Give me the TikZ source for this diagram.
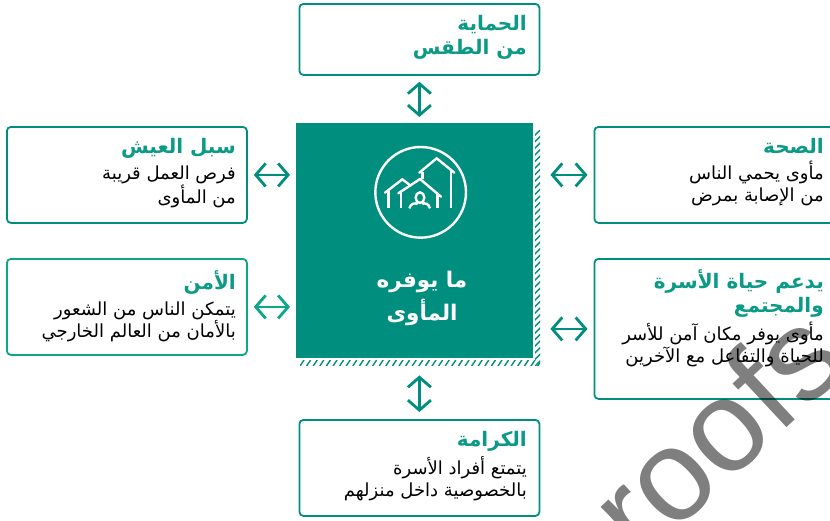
\documentclass[tikz,border=0pt]{standalone}
\usepackage{fontspec}
\usetikzlibrary{arrows.meta}
\setmainfont{DejaVu Sans}
\newfontfamily\arabicfont[Script=Arabic]{DejaVu Sans}
\newfontfamily\wmfont{Liberation Sans}
\TeXXeTstate=1
\definecolor{teal1}{HTML}{008F7E}
\definecolor{teal2}{HTML}{0AA888}
\definecolor{titlecol}{HTML}{0B9A85}
\newcommand{\rl}[1]{\beginR #1\endR}
\newcommand{\ttl}[1]{{\color{titlecol}\fontsize{20}{24}\selectfont\bfseries\rl{#1}}}
\tikzset{
  infobox/.style={draw=teal1,line width=1.8pt,rounded corners=4pt,fill=white,inner sep=0pt,anchor=north west,minimum width=240pt},
  infotext/.style={anchor=north east,inner sep=0pt,align=right,font=\arabicfont\fontsize{18}{22}\selectfont},
  biarrow/.style={draw=teal1,line width=2.8pt,{Straight Barb[length=10pt,width=23pt,line width=2.8pt]}-{Straight Barb[length=10pt,width=23pt,line width=2.8pt]}},
  hatchline/.style={draw=teal1,line width=1.4pt},
  iconline/.style={draw=white,line width=2.4pt}
}
\begin{document}
\begin{tikzpicture}[x=1pt,y=-1pt]
\useasboundingbox (0,0) rectangle (830,520);
\clip (0,0) rectangle (830,520);
\fill[white] (0,0) rectangle (830,520);
% hatch
\begin{scope}
\clip (535,130) rectangle (540,365);
\foreach \i in {0,...,36}{\draw[hatchline] (534,{136+\i*6.6}) -- (541,{129+\i*6.6});}
\end{scope}
\begin{scope}
\clip (300,360.5) rectangle (540,365);
\foreach \i in {0,...,37}{\draw[hatchline] ({300+\i*6.6},366) -- ({304+\i*6.6},360);}
\end{scope}
% centre
\node[fill=teal1,inner sep=0pt,minimum width=237pt,minimum height=235pt,anchor=north west] (centre) at (296,123) {};
\node[inner sep=0pt,align=center,text=white,anchor=north,font=\arabicfont\bfseries\fontsize{21.5}{33}\selectfont] (centretext) at (422,271) {\rl{ما يوفره}\\\rl{المأوى}};
\begin{scope}[shift={(370,140)},x=0.3333pt,y=-0.3333pt]
\draw[iconline] (152,157) circle[radius=136];
\draw[iconline,line cap=round] (148,98) -- (200,55) -- (253,98);
\draw[iconline] (158,95) -- (158,116);
\draw[iconline] (243,88) -- (243,205);
\draw[iconline,line cap=round] (45,158) -- (97,118) -- (122,137);
\draw[iconline] (55,152) -- (55,205);
\draw[iconline,line cap=round] (85,160) -- (150,117) -- (213,170);
\draw[iconline] (93,155) -- (93,205);
\draw[iconline] (203,162) -- (203,205);
\draw[iconline] (150,173) ellipse[x radius=13,y radius=16];
\draw[iconline] (118,205) .. controls (122,190) and (135,188) .. (143,192);
\draw[iconline] (180,205) .. controls (176,190) and (165,188) .. (157,192);
\end{scope}
% boxes
\node[infobox,minimum height=71pt] (top) at (298.5,3) {};
\node[infobox,minimum height=96pt] (leftA) at (6,126) {};
\node[infobox,minimum height=96pt,draw=teal2] (leftB) at (6,258) {};
\node[infobox,minimum height=96pt] (rightA) at (593.5,126) {};
\node[infobox,minimum height=140pt] (rightB) at (593.5,258) {};
\node[infobox,minimum height=96pt] (bottom) at (298.5,419) {};
% text
\node[infotext] (topt) at (527,15) {\ttl{الحماية}\\[2pt]\ttl{من الطقس}};
\node[infotext] (leftAt) at (236,138) {\ttl{سبل العيش}\\[4pt]\rl{فرص العمل قريبة}\\\rl{من المأوى}};
\node[infotext] (leftBt) at (236,270) {\ttl{الأمن}\\[4pt]\rl{يتمكن الناس من الشعور}\\\rl{بالأمان من العالم الخارجي}};
\node[infotext] (rightAt) at (824,138) {\ttl{الصحة}\\[4pt]\rl{مأوى يحمي الناس}\\\rl{من الإصابة بمرض}};
\node[infotext] (rightBt) at (824,269) {\ttl{يدعم حياة الأسرة}\\[2pt]\ttl{والمجتمع}\\[4pt]\rl{مأوى يوفر مكان آمن للأسر}\\\rl{للحياة والتفاعل مع الآخرين}};
\node[infotext] (bottomt) at (527,431) {\ttl{الكرامة}\\[4pt]\rl{يتمتع أفراد الأسرة}\\\rl{بالخصوصية داخل منزلهم}};
% connectors
\draw[biarrow,shorten <=6pt,shorten >=6pt] (top.south) -- (top.south |- centre.north);
\draw[biarrow,shorten <=6pt,shorten >=6pt] (leftA.east) -- (leftA.east -| centre.west);
\draw[biarrow,draw=teal2,shorten <=6pt,shorten >=6pt] (leftB.east) -- (leftB.east -| centre.west);
\draw[biarrow,shorten <=6pt,shorten >=17pt] (rightA.west) -- (rightA.west -| centre.east);
\draw[biarrow,shorten <=6pt,shorten >=17pt] (rightB.west) -- (rightB.west -| centre.east);
\draw[biarrow,shorten <=7pt,shorten >=17pt] (bottom.north) -- (bottom.north |- centre.south);
% watermark
\node[anchor=base west,inner sep=0pt,rotate=43,text=black,text opacity=0.5,font=\wmfont\fontsize{130}{130}\selectfont] (wm) at (641,564) {roofs};
\end{tikzpicture}
\end{document}
